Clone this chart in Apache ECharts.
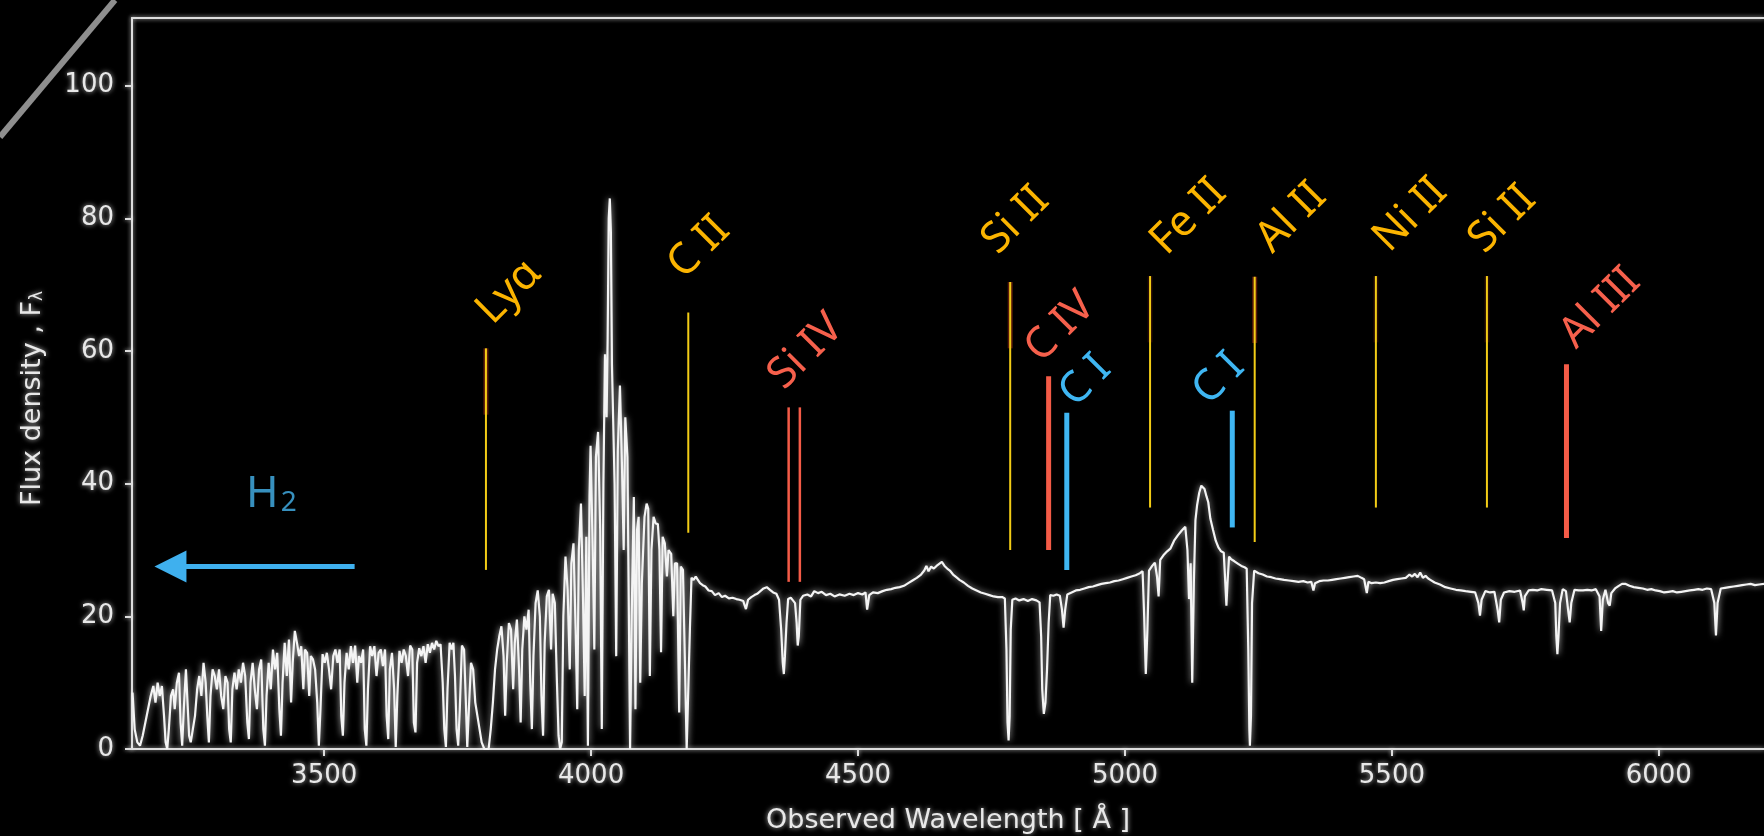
<!DOCTYPE html>
<html><head><meta charset="utf-8">
<script src="https://cdn.jsdelivr.net/npm/echarts@6/dist/echarts.min.js"></script>
<style>html,body{margin:0;padding:0;background:#000}#c{width:1764px;height:836px}</style>
</head><body><div id="c"></div>
<script>
// ---- spectrum: [wavelength (Å), flux density] ----
const forestH2 = [[3141,8.5],[3145,3],[3150,1],[3155,0.5],[3160,2],[3165,4],[3170,6],[3175,8],[3180,9.5],[3184,7],[3188,10],[3192,8],[3196,9.5],[3200,5],[3203,1],[3206,0],[3209,3],[3213,8],[3217,9],[3220,6],[3224,10],[3228,11.5],[3231,4],[3234,0.5],[3237,6],[3241,12],[3244,7],[3247,2],[3250,1],[3254,3],[3258,5],[3262,9],[3266,11],[3270,8],[3274,13],[3278,10],[3281,5],[3284,1],[3287,8],[3291,12],[3295,11],[3299,9],[3303,12],[3307,8],[3311,6],[3315,11],[3319,10],[3322,3],[3325,1],[3328,9],[3332,11.5],[3336,9],[3340,12],[3344,10],[3348,13],[3352,11],[3356,4],[3359,1.5],[3362,10],[3366,13],[3370,9],[3374,6],[3378,12],[3382,13.5],[3386,3],[3389,0.5],[3392,8],[3396,13],[3400,9],[3404,15],[3408,12],[3412,14.5],[3416,6],[3419,2],[3422,10],[3426,16],[3430,11],[3434,16.5],[3438,7],[3441,13],[3445,17.8],[3449,16],[3453,14],[3457,15.5],[3461,9],[3464,15],[3468,14.5],[3472,8],[3475,14],[3479,13.5],[3483,12],[3487,7],[3490,0.5],[3493,6],[3497,14.3],[3501,13],[3505,14.5],[3509,12],[3513,9],[3517,14],[3521,15],[3525,13],[3529,15],[3532,5],[3535,2],[3538,10],[3542,14.5],[3546,12],[3550,15.5],[3554,13],[3558,15.6],[3562,10],[3565,14],[3569,13],[3573,15],[3576,3],[3579,0.5],[3582,9],[3586,15.5],[3590,14],[3594,15.5],[3598,11],[3602,14.5],[3606,15],[3610,12.5],[3614,15],[3617,5],[3620,1.5],[3623,12],[3627,14.5],[3631,9],[3634,0.3],[3637,8],[3641,14.8],[3645,13],[3649,15],[3653,14],[3657,11],[3661,15.6],[3665,15],[3668,4],[3671,2.5],[3674,13],[3678,15.2],[3682,14],[3686,15.5],[3690,13],[3694,15.8],[3698,14.5],[3702,16],[3706,15],[3710,16.3],[3714,15.5],[3718,15.8],[3722,10],[3725,3],[3728,0.3],[3731,9],[3735,16],[3739,15],[3742,16],[3745,11],[3748,3],[3751,0.5],[3754,6],[3758,15.6],[3762,15],[3765,8],[3768,0.3],[3771,6],[3775,13],[3779,12],[3783,7],[3787,5],[3791,3],[3795,1],[3800,0],[3808,0]];
const lyaRegion = [[3812,3],[3816,7],[3820,12],[3824,15],[3828,17],[3832,18.5],[3836,14],[3839,5],[3842,13],[3846,19],[3850,18],[3854,9],[3857,16],[3861,19.5],[3865,12],[3868,4],[3871,15],[3875,20],[3879,18],[3883,21],[3886,10],[3889,3],[3892,14],[3896,22],[3900,23.9],[3904,20],[3907,8],[3910,2],[3913,16],[3917,23],[3921,24],[3925,15],[3928,23.4],[3932,22],[3936,10],[3939,2],[3942,0],[3945,1],[3948,20],[3952,29],[3956,24],[3960,12],[3963,28],[3967,31],[3971,18],[3974,6],[3977,30],[3981,37],[3985,22],[3988,8],[3991,32],[3994,0.5],[3997,38],[3999,45.7],[4003,30],[4006,15],[4009,44],[4013,47.8],[4017,33],[4020,3],[4023,40],[4026,59.5],[4029,50],[4031,62],[4033,80],[4035,83],[4037,78],[4039,58],[4041,57.9],[4044,40],[4047,14],[4050,45],[4054,54.8],[4058,42],[4061,30],[4064,50],[4068,44],[4071,18],[4073,0],[4076,20],[4080,38],[4083,6],[4086,33],[4089,35],[4092,10],[4095,25],[4100,35],[4104,37],[4107,36.2],[4110,11],[4113,30],[4117,35],[4121,34],[4125,33.9],[4128,30],[4131,14.6],[4134,32],[4138,31],[4142,26],[4145,30],[4150,29.4],[4154,20],[4157,28],[4161,28],[4165,5.5],[4168,27.5],[4172,27],[4176,12],[4179,0],[4182,0],[4185,18],[4188,25.8],[4192,25.5],[4196,26],[4199,25.6],[4204,25],[4209,24.7],[4214,24.5],[4220,23.9],[4226,23.8],[4232,23.2],[4239,23.5],[4245,22.9],[4251,23.1],[4258,22.7],[4265,22.8],[4272,22.6],[4278,22.5]];
const continuumBlue = [[4285,22.3],[4290,21.1],[4294,22.5],[4300,22.9],[4306,23.2],[4311,23.4],[4317,23.8],[4323,24.2],[4329,24.4],[4335,24.0],[4341,23.6],[4347,23.4],[4352,22.5],[4356,18],[4359,13],[4361,11.3],[4363,14],[4366,19],[4369,22.6],[4374,22.8],[4378,22.4],[4382,22.0],[4385,19],[4387,15.6],[4389,17],[4392,22.5],[4397,23.1],[4405,23.3],[4412,23.0],[4418,23.8],[4425,23.5],[4432,23.7],[4440,23.2],[4448,23.4],[4456,23.0],[4465,23.3],[4475,23.1],[4484,23.4],[4492,23.2],[4500,23.5],[4508,23.3],[4514,23.6],[4517,21],[4519,20.9],[4521,23.2],[4528,23.6],[4537,23.5],[4546,23.8],[4554,24.0],[4562,24.1],[4570,24.3],[4578,24.4],[4586,24.6],[4594,25.0],[4602,25.4],[4610,25.8],[4618,26.3],[4624,26.9],[4628,27.6],[4632,26.8],[4637,27.5],[4642,27.2],[4647,27.6],[4652,27.9],[4657,28.2],[4662,27.6],[4667,27.2],[4672,26.9],[4678,26.3],[4684,25.9],[4690,25.5],[4698,25.1],[4706,24.6],[4714,24.2],[4722,23.9],[4730,23.6],[4738,23.4],[4746,23.2],[4754,23.0],[4762,22.9],[4770,22.9],[4775,22.7],[4778,15],[4780,4],[4782,1.3],[4784,5],[4786,18],[4789,22.5],[4795,22.7],[4802,22.4],[4810,22.6],[4818,22.3],[4826,22.6],[4834,22.4],[4840,22.1],[4843,17],[4845,9],[4848,5.3],[4851,7],[4854,12],[4857,19],[4860,23.2],[4866,23.1],[4872,23.3],[4878,23.1],[4882,21],[4885,18.3],[4888,21],[4892,23.3],[4900,23.6],[4908,23.9],[4916,24.0],[4924,24.2],[4932,24.4],[4940,24.5],[4948,24.7],[4956,24.9],[4964,25.0],[4972,25.1],[4980,25.3],[4988,25.4],[4996,25.6],[5004,25.8],[5012,26.0],[5020,26.2],[5028,26.5],[5033,26.8],[5036,20],[5039,11.3],[5042,18],[5045,26.9],[5051,27.6],[5056,28.1],[5060,26],[5063,23],[5066,28.5],[5072,29.2],[5079,29.8],[5085,30.2],[5092,31.4],[5099,32.2]];
const continuumRed = [[5106,32.9],[5113,33.5],[5117,30],[5120,22.6],[5123,28],[5126,10],[5129,25],[5132,34.5],[5135,36.7],[5139,38.6],[5143,39.7],[5146,40.0],[5149,39.2],[5153,38],[5156,37.2],[5160,34.7],[5165,33.0],[5170,31.4],[5175,30.4],[5180,29.8],[5185,29.6],[5188,25],[5190,21.6],[5192,25],[5195,29.0],[5199,28.6],[5205,28.3],[5212,27.9],[5218,27.6],[5224,27.4],[5228,27.2],[5231,15],[5233,3],[5234,0.5],[5236,5],[5238,22],[5242,26.9],[5250,26.5],[5258,26.3],[5266,26.0],[5274,25.9],[5282,25.7],[5290,25.6],[5298,25.5],[5307,25.4],[5316,25.3],[5325,25.2],[5334,25.3],[5342,25.1],[5349,25.2],[5353,23.9],[5356,25.0],[5364,25.3],[5372,25.4],[5380,25.4],[5388,25.5],[5396,25.6],[5404,25.7],[5412,25.8],[5420,25.9],[5428,26.0],[5436,26.1],[5443,25.8],[5448,25.6],[5453,23.5],[5456,25.2],[5462,25.0],[5470,25.1],[5478,25.0],[5486,25.1],[5494,25.3],[5502,25.5],[5510,25.6],[5518,25.7],[5526,25.8],[5533,26.3],[5538,26.0],[5543,26.4],[5548,25.9],[5553,26.6],[5558,25.8],[5563,26.1],[5568,25.7],[5572,25.5],[5580,25.1],[5590,24.8],[5600,24.4],[5610,24.2],[5620,24.0],[5629,23.9],[5638,23.8],[5648,23.7],[5656,23.6],[5662,22],[5665,20.1],[5668,22.5],[5675,23.8],[5684,23.6],[5692,23.7],[5698,21],[5701,19.1],[5704,22.5],[5710,23.6],[5720,23.8],[5730,23.7],[5740,23.9],[5745,22],[5747,20.9],[5749,23],[5756,23.9],[5764,24.0],[5772,23.9],[5780,24.1],[5790,24.0],[5800,23.9],[5806,22],[5808,17],[5810,14.3],[5812,17],[5815,22],[5820,24.1],[5826,23.8],[5830,21],[5833,19.1],[5836,22],[5842,24.0],[5850,23.9],[5858,23.9],[5866,24.0],[5874,23.9],[5882,24.1],[5889,23.0],[5892,17.8],[5895,22.5],[5900,24.0],[5905,22],[5908,21.6],[5911,23.5],[5918,24.2],[5925,24.6],[5931,24.9],[5937,24.9],[5945,24.6],[5953,24.4],[5962,24.3],[5970,24.2],[5978,24.0],[5986,24.1],[5994,23.9],[6002,23.8],[6010,23.6],[6018,23.7],[6026,23.8],[6034,23.6],[6042,23.7],[6050,23.8],[6058,23.9],[6066,24.0],[6074,24.1],[6082,24.0],[6090,24.2],[6098,24.1],[6104,22],[6107,17.1],[6110,22],[6116,24.2],[6124,24.3],[6132,24.4],[6140,24.5],[6148,24.6],[6156,24.7],[6164,24.8],[6172,24.9],[6180,24.7],[6188,24.8],[6197,24.9]];

// ---- absorption-line markers ----
const markerLabel  = ['Lyα','C II','Si IV','','Si II','C IV','C I','Fe II','C I','Al II','Ni II','Si II','Al III'];
const markerWave   = [3803, 4182, 4370, 4391, 4785, 4857, 4891, 5047, 5201, 5243, 5470, 5678, 5827];
const markerTop    = [60.4, 65.8, 51.5, 51.5, 70.4, 56.2, 50.7, 71.3, 51.0, 71.2, 71.3, 71.3, 58.0];
const markerBottom = [27.0, 32.6, 25.2, 25.2, 30.0, 30.0, 27.0, 36.4, 33.4, 31.2, 36.4, 36.4, 31.8];
const markerKind   = ['low','low','high','high','low','high','neutral','low','neutral','low','low','low','high'];

// ---- axes ----
const xTicks = [3500, 4000, 4500, 5000, 5500, 6000];
const yTicks = [0, 20, 40, 60, 80, 100];
const xRange = [3140, 6197];
const yRange = [0, 110.2];

// ---- annotation: H2 arrow (wavelength from -> to, flux level) and label anchor ----
const h2Arrow = [3557, 3212, 27.5];
const h2Label = [3401, 38.3];

// ---- styles (not data) ----
const kindColor = {
  low:     {line: '#f2cc16', text: '#fbb400'},
  high:    {line: '#f45b47', text: '#f6604c'},
  neutral: {line: '#3fb6f2', text: '#3fb6f2'}
};
// per-marker drawing style: line width, label offset from line top (px), reddish glow on top part
const markerLayout = [
  {w:2, dx:3,  dy:-16, tint:1}, {w:2, dx:-8, dy:-26}, {w:2.5, dx:-8, dy:-10}, {w:2.5, dx:0, dy:0},
  {w:2, dx:-16,dy:-20, tint:1}, {w:5, dx:-11, dy:-6},  {w:5, dx:5, dy:2},     {w:2, dx:13, dy:-13, tint:0.4},
  {w:5, dx:-27,dy:2},   {w:2, dx:14, dy:-16, tint:1}, {w:2, dx:10, dy:-16, tint:0.4},  {w:2, dx:-6, dy:-15, tint:0.4},
  {w:5, dx:6,  dy:-8}
];
const LABEL_SHIFT = [10, 0];
const AX = '#dcdcdc';
const glow = 'rgba(255,255,255,0.75)';
const LABEL_FONT = '43px "Noto Sans"';

const chart = echarts.init(document.getElementById('c'), null, {renderer: 'canvas'});
const spectrum = forestH2.concat(lyaRegion, continuumBlue, continuumRed);

const axisLineStyle = {color: AX, width: 2, shadowBlur: 4, shadowColor: glow};
const tickText = {color: '#e8e8e8', fontSize: 26, fontFamily: 'DejaVu Sans', textShadowColor: glow, textShadowBlur: 5,
  formatter: v => String(v)};

chart.setOption({
  backgroundColor: '#000',
  animation: false,
  grid: {left: 132, right: 0, top: 18, bottom: 87, containLabel: false, outerBoundsMode: 'none'},
  xAxis: [{
    type: 'value', min: xRange[0], max: xRange[1], position: 'bottom',
    axisLine: {show: true, onZero: false, lineStyle: axisLineStyle},
    axisTick: {show: true, length: 7, customValues: xTicks, lineStyle: axisLineStyle},
    axisLabel: Object.assign({customValues: xTicks, margin: 14}, tickText),
    splitLine: {show: false},
    name: 'Observed Wavelength [ Å ]', nameLocation: 'middle', nameGap: 58,
    nameTextStyle: {color: '#e8e8e8', fontSize: 27, fontFamily: 'DejaVu Sans', textShadowColor: glow, textShadowBlur: 5}
  }, {
    type: 'value', min: xRange[0], max: xRange[1], position: 'top',
    axisLine: {show: true, onZero: false, lineStyle: axisLineStyle},
    axisTick: {show: false}, axisLabel: {show: false}, splitLine: {show: false}
  }],
  yAxis: {
    type: 'value', min: yRange[0], max: yRange[1],
    axisLine: {show: true, onZero: false, lineStyle: axisLineStyle},
    axisTick: {show: true, length: 7, customValues: yTicks, lineStyle: axisLineStyle},
    axisLabel: Object.assign({customValues: yTicks, margin: 18}, tickText),
    splitLine: {show: false},
    name: 'Flux density , F{sub|λ}', nameLocation: 'middle', nameGap: 86, nameRotate: 90,
    nameTextStyle: {color: '#e8e8e8', fontSize: 27, fontFamily: 'DejaVu Sans', textShadowColor: glow, textShadowBlur: 5,
      padding: [0, 30, 0, 0],
      rich: {sub: {fontSize: 17, color: '#e8e8e8', fontFamily: 'DejaVu Sans', verticalAlign: 'bottom', padding: [8, 0, 0, 0]}}}
  },
  graphic: [{
    type: 'line', shape: {x1: 0, y1: 137, x2: 115, y2: 0},
    style: {stroke: '#8e8e8e', lineWidth: 6}, silent: true
  }],
  series: [{
    type: 'line', name: 'spectrum', data: spectrum, showSymbol: false, symbol: 'none',
    xAxisIndex: 0, yAxisIndex: 0, silent: true, z: 2,
    lineStyle: {color: '#f4f4f4', width: 2.2, shadowBlur: 6, shadowColor: glow},
    markLine: {
      silent: true, symbol: ['none', 'triangle'], symbolSize: 32,
      label: {show: false},
      lineStyle: {color: '#3fb0ee', width: 5, type: 'solid', opacity: 1},
      emphasis: {disabled: true},
      data: [[{coord: [h2Arrow[0], h2Arrow[2]]}, {coord: [h2Arrow[1], h2Arrow[2]]}]]
    }
  }, {
    type: 'scatter', name: 'H2', data: [h2Label], symbolSize: 0, silent: true,
    label: {show: true, position: 'inside', formatter: '{h|H}{s|2}',
      rich: {h: {fontSize: 44, color: '#45b4ee', fontFamily: 'Noto Sans'},
             s: {fontSize: 28, color: '#45b4ee', fontFamily: 'Noto Sans', verticalAlign: 'bottom', padding: [16, 0, 0, 2]}}}
  }, {
    type: 'custom', name: 'markers', silent: true, clip: false, z: 3,
    data: markerWave.map((w, i) => [w, markerTop[i], markerBottom[i]]),
    encode: {x: 0, y: [1, 2]},
    renderItem: function (params, api) {
      const i = params.dataIndex;
      const top = api.coord([api.value(0), api.value(1)]);
      const bot = api.coord([api.value(0), api.value(2)]);
      const lay = markerLayout[i];
      const col = kindColor[markerKind[i]];
      const children = [];
      if (lay.tint) {
        const mid = api.coord([api.value(0), api.value(1) - 10]);
        children.push({
          type: 'line', shape: {x1: top[0], y1: top[1], x2: mid[0], y2: mid[1]},
          style: {stroke: '#e0401c', lineWidth: 5, opacity: 0.4 * lay.tint}
        });
      }
      children.push({
        type: 'line', shape: {x1: top[0], y1: top[1], x2: bot[0], y2: bot[1]},
        style: {stroke: col.line, lineWidth: lay.w}
      });
      if (markerLabel[i]) {
        children.push({
          type: 'text', x: top[0] + lay.dx + LABEL_SHIFT[0], y: top[1] + lay.dy + LABEL_SHIFT[1], rotation: Math.PI / 4,
          style: {text: markerLabel[i], fill: col.text, font: LABEL_FONT, align: 'left', verticalAlign: 'bottom'}
        });
      }
      return {type: 'group', children: children};
    }
  }]
});
</script>
</body></html>
